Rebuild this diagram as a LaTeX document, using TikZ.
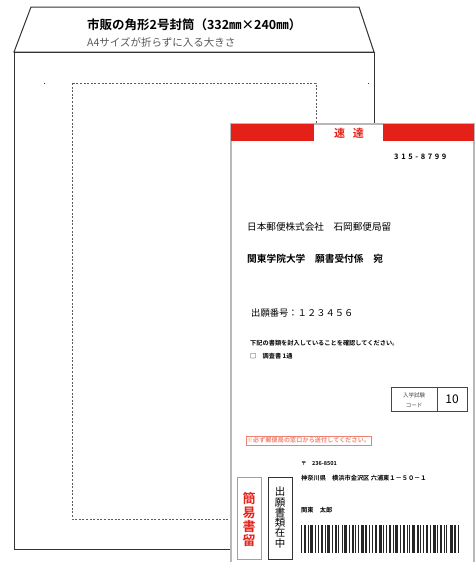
\documentclass[tikz,border=0pt]{standalone}
\usepackage{fontspec}
\setmainfont{Noto Sans CJK JP}[BoldFont={Noto Sans CJK JP Bold}]
\begin{document}
\definecolor{sokred}{HTML}{E52019}
\definecolor{salmon}{HTML}{EE8270}
\definecolor{envline}{HTML}{333333}
\definecolor{lblgrey}{HTML}{B8B8B8}
\begin{tikzpicture}[x=1pt,y=-1pt,
  env/.style={draw=envline,line width=1pt},
  txt/.style={inner sep=0pt,anchor=west},
  fs/.style={font=\fontsize{#1}{#1}\selectfont}]
\useasboundingbox (0,0) rectangle (475,562);
% envelope
\draw[env,fill=white] (14,52) -- (31,7) -- (359,7) -- (374,52) -- cycle;
\draw[env] (14,52) rectangle (374,549);
\node[txt,font=\bfseries\fontsize{12.5}{12.5}\selectfont] (title) at (87,25) {市販の角形2号封筒（332㎜×240㎜）};
\node[txt,fs=10.5,text=black!65] (sub) at (87,42) {A4サイズが折らずに入る大きさ};
\draw[envline!80,line width=0.8pt,dash pattern=on 2pt off 1.6pt] (72,83) rectangle (316,519);
\fill[envline] (43.5,82.5) rectangle (45,84);
\fill[envline] (367.5,82.5) rectangle (369,84);
% label
\draw[lblgrey,line width=1.2pt,fill=white] (231,124) rectangle (474,566);
\fill[sokred] (231,124) rectangle (314,141);
\fill[sokred] (383,124) rectangle (474,141);
\node[inner sep=0pt,text=sokred,font=\bfseries\fontsize{11}{11}\selectfont] (sokutatsu) at (349,133) {速\hspace{0.7em}達};
\node[txt,font=\bfseries\addfontfeature{LetterSpace=35}\fontsize{7.5}{7.5}\selectfont] (zip) at (394,157) {315-8799};
\node[txt,fs=9.6] (post) at (247,227) {日本郵便株式会社　石岡郵便局留};
\node[txt,font=\bfseries\fontsize{9.7}{9.7}\selectfont] (dest) at (247,259) {関東学院大学　願書受付係　宛};
\node[txt,fs=9.3] (num) at (251,313) {出願番号：１２３４５６};
\node[txt,font=\bfseries\fontsize{6.2}{6.2}\selectfont] (note1) at (250,343) {下記の書類を封入していることを確認してください。};
\node[txt,font=\bfseries\fontsize{6.2}{6.2}\selectfont] (note2) at (250,356) {□　調査書 1通};
% code box
\draw[envline!90,line width=0.7pt] (391,387) rectangle (467,411);
\draw[envline!90,line width=0.7pt] (437,387) -- (437,411);
\node[inner sep=0pt,fs=5.5,text=black!75] (k1) at (414,395) {入学試験};
\node[inner sep=0pt,fs=5.5,text=black!75] (k2) at (414,405) {コード};
\node[inner sep=0pt,fs=12] (k3) at (452,399) {10};
% notice
\draw[salmon,line width=0.8pt] (246,436) rectangle (371,445);
\node[inner sep=0pt,text=salmon,font=\bfseries\addfontfeature{LetterSpace=3}\fontsize{6}{6}\selectfont] (notice) at (308.5,440.5) {※必ず郵便局の窓口から送付してください。};
% sender
\node[txt,font=\bfseries\fontsize{5.5}{5.5}\selectfont] (szip) at (301,464) {〒　236-8501};
\node[txt,font=\bfseries\fontsize{6.2}{6.2}\selectfont] (saddr) at (301,478) {神奈川県　横浜市金沢区 六浦東１－５０－１};
\node[txt,font=\bfseries\fontsize{6.2}{6.2}\selectfont] (sname) at (301,510) {関東　太郎};
% vertical stamps
\draw[salmon,line width=0.9pt] (237,477) rectangle (261,559);
\node[inner sep=0pt,align=center,text=sokred,font=\bfseries\fontsize{13}{14}\selectfont] (kan) at (249,519.5) {簡\\易\\書\\留};
\draw[envline,line width=0.9pt] (268,477) rectangle (292,559);
\node[inner sep=0pt,align=center,font=\fontsize{10.5}{10.3}\selectfont] (shutsu) at (280,517.5) {出\\願\\書\\類\\在\\中};
% barcode
\gdef\bx{301}
\foreach \w/\g in {1/2,2/1.5,1/1.5,3/1.5,1/2.5,1/1.5,2/2,1/1.5,3/1.5,1/2,2/1.5,1/2.5,1/1.5,3/2,1/1.5,2/1.5,1/2,1/1.5,3/1.5,2/2,1/1.5,1/2.5,2/1.5,3/1.5,1/2,1/1.5,2/2,1/1.5,3/1.5,1/2.5,2/1.5,1/1.5,1/2,3/1.5,2/1.5,1/2,1/1.5,2/2.5,1/1.5,3/1.5,1/2,2/1.5,1/1.5,1/2.5,3/1.5,2/2,1/1.5}{
  \fill[black!85] (\bx,525) rectangle ++(\w,28);
  \pgfmathsetmacro\tmp{\bx+\w+\g}
  \xdef\bx{\tmp}
}
\end{tikzpicture}
\end{document}
